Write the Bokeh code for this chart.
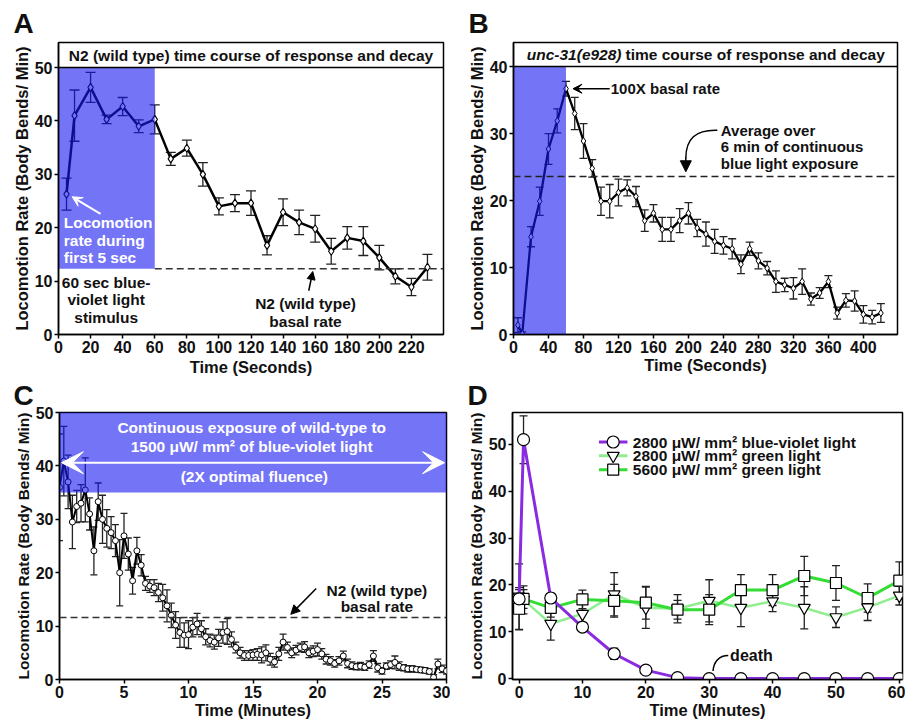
import numpy as np
from bokeh.plotting import figure
from bokeh.layouts import column, row
from bokeh.models import (ColumnDataSource, Whisker, TeeHead, Label, Arrow, VeeHead,
                          NormalHead, FixedTicker, Span)
from bokeh.embed import file_html
from bokeh.resources import INLINE

FONT = "Liberation Sans"

# ---------------- Panel A : N2 (wild type), seconds ----------------
a_time = [5, 10, 20, 30, 40, 50, 60, 70, 80, 90, 100, 110, 120, 130, 140, 150,
          160, 170, 180, 190, 200, 210, 220, 230]
a_rate = [26.3, 41.0, 46.3, 40.3, 42.7, 39.0, 40.3, 32.9, 34.9, 30.0, 24.0, 24.6,
          24.6, 16.7, 22.9, 21.0, 19.8, 15.6, 18.1, 17.5, 14.4, 10.9, 8.9, 12.6]
a_sem = [3.0, 4.8, 2.8, 0.8, 1.7, 1.2, 2.7, 1.2, 1.5, 2.2, 1.6, 1.6,
         2.3, 1.8, 2.5, 2.3, 2.5, 2.4, 2.1, 2.7, 2.3, 1.4, 1.6, 2.4]
a_basal = 12.3
a_stim_end = 60
a_xticks = [0, 20, 40, 60, 80, 100, 120, 140, 160, 180, 200, 220]
a_yticks = [0, 10, 20, 30, 40, 50]

# ---------------- Panel B : unc-31(e928), seconds ----------------
b_time = [5, 10, 20, 30, 40, 50, 60, 70, 80, 90, 100, 110, 120, 130, 140, 150,
          160, 170, 180, 190, 200, 210, 220, 230, 240, 250, 260, 270, 280, 290,
          300, 310, 320, 330, 340, 350, 360, 370, 380, 390, 400, 410, 420]
b_rate = [1.4, 0.1, 14.6, 19.9, 27.7, 31.9, 36.7, 33.0, 28.9, 24.8, 19.9, 19.9,
          21.2, 21.9, 20.6, 17.0, 18.1, 15.7, 15.7, 17.0, 18.1, 15.9, 15.0, 13.9,
          13.3, 12.8, 10.5, 12.8, 11.0, 9.9, 7.9, 7.4, 6.9, 7.9, 5.3, 6.2, 7.9,
          3.2, 5.1, 5.0, 3.0, 2.6, 3.2]
b_sem = [1.1, 0.3, 1.5, 2.1, 2.3, 1.8, 1.1, 2.4, 2.6, 1.3, 2.1, 2.5, 2.0, 1.2,
         1.5, 1.6, 1.3, 1.8, 1.8, 1.8, 1.6, 1.3, 1.8, 1.8, 1.3, 1.5, 1.4, 1.0,
         1.2, 1.0, 1.6, 1.0, 1.6, 1.9, 0.9, 0.8, 0.9, 0.9, 1.0, 1.5, 1.3, 1.0, 1.4]
b_average = 23.6
b_stim_end = 60
b_xticks = [0, 40, 80, 120, 160, 200, 240, 280, 320, 360, 400]
b_yticks = [0, 10, 20, 30, 40]

# ---------------- Panel C : continuous exposure, minutes ----------------
c_rate = [36.0, 40.9, 37.0, 29.5, 32.4, 33.0, 35.5, 31.0, 24.1, 33.3,
          30.0, 28.3, 27.5, 26.0, 20.0, 26.9, 23.5, 18.5, 24.1, 21.4,
          18.0, 17.5, 17.2, 16.3, 15.3, 13.8, 12.0, 10.2, 8.8, 8.3,
          8.4, 9.8, 10.4, 9.5, 8.0, 7.3, 7.0, 7.8, 8.8, 9.0,
          7.5, 6.0, 5.0, 4.5, 4.5, 4.6, 4.7, 4.6, 5.0, 3.8,
          3.3, 4.8, 7.0, 6.0, 5.0, 5.5, 6.0, 6.1, 5.0, 5.3,
          5.6, 4.8, 3.8, 3.5, 3.0, 3.5, 4.4, 3.0, 2.6, 2.4,
          2.5, 2.3, 2.8, 4.4, 2.2, 1.6, 2.5, 2.8, 3.2, 2.5,
          2.2, 2.0, 2.0, 1.9, 1.8, 1.7, 1.5, 0.4, 2.9, 2.0,
          1.6]
c_sem = [10.0, 6.5, 5.0, 5.0, 3.0, 3.5, 6.0, 3.0, 4.5, 3.5,
         4.5, 3.5, 3.0, 3.0, 6.2, 4.2, 3.0, 2.5, 2.5, 2.0,
         1.3, 1.2, 1.5, 1.7, 2.5, 3.0, 2.3, 2.5, 2.8, 2.3,
         2.6, 1.8, 2.0, 1.5, 1.5, 1.2, 1.3, 1.6, 2.0, 2.4,
         1.4, 1.0, 1.0, 0.9, 0.9, 1.0, 1.1, 1.5, 1.5, 1.1,
         1.0, 1.2, 1.5, 1.0, 0.9, 0.9, 0.8, 1.0, 0.9, 1.0,
         1.2, 1.0, 0.9, 0.8, 0.7, 0.8, 0.9, 0.8, 0.7, 0.6,
         0.7, 0.6, 0.7, 1.0, 0.8, 0.6, 0.6, 0.7, 1.2, 0.8,
         0.6, 0.6, 0.6, 0.5, 0.5, 0.5, 0.5, 0.5, 0.9, 0.7,
         0.6]
c_time = list(np.arange(len(c_rate)) / 3.0)   # one sample every 20 s
c_basal = 11.6
c_light_band = (35, 50)
c_xticks = [0, 5, 10, 15, 20, 25, 30]
c_yticks = [0, 10, 20, 30, 40, 50]

# ---------------- Panel D : three light conditions, minutes ----------------
d_time = [0, 0.7, 5, 10, 15, 20, 25, 30, 35, 40, 45, 50, 55, 60]
d_blue = [17.0, 51.0, 17.2, 11.0, 5.3, 1.8, 0.2, 0, 0, 0, 0, 0, 0, 0]
d_blue_sem = [2.0, 5.1, 1.0, 0.8, 1.2, 0.5, 0.2, 0, 0, 0, 0, 0, 0, 0]
d_green28 = [17.5, 16.8, 11.7, 13.8, 18.0, 15.1, 14.9, 16.6, 15.1, 16.5, 15.1, 13.1, 15.2, 17.7]
d_green28_sem = [7.0, 3.0, 3.5, 2.5, 4.6, 4.4, 3.0, 4.5, 4.0, 2.2, 4.5, 2.2, 2.8, 2.0]
d_green56 = [14.9, 17.0, 15.1, 16.9, 16.6, 16.2, 14.7, 14.7, 18.9, 18.9, 21.9, 20.4, 17.2, 20.9]
d_green56_sem = [4.5, 2.0, 2.0, 2.0, 3.5, 3.5, 2.0, 3.2, 3.3, 3.3, 4.2, 3.7, 3.0, 4.0]
d_labels = ["2800 \u03bcW/ mm\u00b2 blue-violet light",
            "2800 \u03bcW/ mm\u00b2 green light",
            "5600 \u03bcW/ mm\u00b2 green light"]
d_colors = ["#8a2be2", "#90ee90", "#33dd33"]
d_xticks = [0, 10, 20, 30, 40, 50, 60]
d_yticks = [0, 10, 20, 30, 40, 50]

BAND = "#1717f0"
BAND_ALPHA = 0.6
YLABEL = "Locomotion Rate (Body Bends/ Min)"


def make_fig(w, h, xr, yr, bl, br, bt, bb, xlabel, xticks, yticks, xl_standoff,
             letter, letter_offset, letter_standoff, letter_valign, ylab_size,
             letter_lh=1.0):
    p = figure(width=w, height=h, x_range=xr, y_range=yr, output_backend="svg",
               toolbar_location=None, min_border_left=bl, min_border_right=br,
               min_border_top=bt, min_border_bottom=bb)
    p.title.text = letter
    p.title.text_font = FONT
    p.title.text_font_size = "28px"
    p.title.text_font_style = "bold"
    p.title.text_color = "#111111"
    p.title.align = "left"
    p.title.offset = letter_offset
    p.title.standoff = letter_standoff
    p.title.vertical_align = letter_valign
    p.title.text_line_height = letter_lh
    p.grid.visible = False
    p.outline_line_color = "black"
    p.outline_line_width = 1.5
    p.xaxis.axis_label = xlabel
    p.yaxis.axis_label = YLABEL
    p.xaxis.ticker = FixedTicker(ticks=xticks)
    p.yaxis.ticker = FixedTicker(ticks=yticks)
    for ax in (p.xaxis[0], p.yaxis[0]):
        ax.axis_line_width = 1.5
        ax.axis_line_color = "black"
        ax.major_tick_line_width = 1.5
        ax.major_tick_out = 4
        ax.major_tick_in = 0
        ax.minor_tick_line_color = None
        ax.major_label_text_font = FONT
        ax.major_label_text_font_size = "16px"
        ax.major_label_text_font_style = "bold"
        ax.major_label_text_color = "#111111"
        ax.major_label_standoff = 2
        ax.axis_label_text_font = FONT
        ax.axis_label_text_font_style = "bold"
        ax.axis_label_text_font_size = "16.5px"
        ax.axis_label_text_color = "#111111"
    p.yaxis.axis_label_text_font_size = ylab_size
    p.yaxis.axis_label_standoff = 1
    p.xaxis.axis_label_standoff = xl_standoff
    return p


def errbars(p, x, y, e, cap, color="#222222", width=1.3):
    src = ColumnDataSource(dict(x=list(x), lo=[a - b for a, b in zip(y, e)],
                                hi=[a + b for a, b in zip(y, e)]))
    w = Whisker(source=src, base="x", lower="lo", upper="hi", line_color=color,
                line_width=width, level="underlay",
                lower_head=TeeHead(size=cap, line_color=color, line_width=width),
                upper_head=TeeHead(size=cap, line_color=color, line_width=width))
    p.add_layout(w)


def txt(p, x, y, s, size="15.5px", color="#111111", align="center", style="bold"):
    p.add_layout(Label(x=x, y=y, text=s, text_font=FONT, text_font_size=size,
                       text_font_style=style, text_color=color, text_align=align,
                       text_baseline="middle"))


# ================= Panel A =================
pA = make_fig(450, 379, (0, 240), (0, 54.7), 58, 7, 42, 45, "Time (Seconds)",
              a_xticks, a_yticks, 2, "A", -45, 7, "bottom", "16.5px")
errbars(pA, a_time, a_rate, a_sem, 10)
pA.line(a_time, a_rate, line_color="black", line_width=2.5)
pA.scatter(a_time, a_rate, marker="diamond", size=8, fill_color="white",
           line_color="black", line_width=1.1)
pA.segment(x0=a_stim_end, x1=240, y0=a_basal, y1=a_basal, line_color="#333333",
           line_width=1.5, line_dash="7 4")
pA.quad(left=0, right=a_stim_end, bottom=a_basal, top=50, fill_color=BAND,
        fill_alpha=BAND_ALPHA, line_color=None)
pA.add_layout(Span(location=50, dimension="width", line_color="black", line_width=1.5))
txt(pA, 120, 52.35, "N2 (wild type) time course of response and decay")
for yy, s in zip([21.0, 17.6, 14.4], ["Locomotion", "rate during", "first 5 sec"]):
    txt(pA, 3.3, yy, s, color="white", align="left")
pA.add_layout(Arrow(x_start=26.2, y_start=22.6, x_end=8.5, y_end=25.8, line_color="white",
                    line_width=2, end=VeeHead(size=10, fill_color="white", line_color="white")))
for yy, s in zip([9.8, 6.5, 3.1], ["60 sec blue-", "violet light", "stimulus"]):
    txt(pA, 29.7, yy, s)
for yy, s in zip([5.75, 2.5], ["N2 (wild type)", "basal rate"]):
    txt(pA, 154, yy, s)
pA.add_layout(Arrow(x_start=156, y_start=8.2, x_end=158.5, y_end=11.8, line_color="black",
                    line_width=1.5, end=NormalHead(size=8, fill_color="black", line_color="black")))

# ================= Panel B =================
pB = make_fig(455, 379, (0, 439), (0, 43.6), 63, 8, 42, 43, "Time (Seconds)",
              b_xticks, b_yticks, 0, "B", -45, 7, "bottom", "16.5px")
errbars(pB, b_time, b_rate, b_sem, 8)
pB.line(b_time, b_rate, line_color="black", line_width=2.3)
pB.scatter(b_time, b_rate, marker="diamond", size=7, fill_color="white",
           line_color="black", line_width=1.0)
pB.add_layout(Span(location=b_average, dimension="width", line_color="#222222",
                   line_width=1.5, line_dash="7 4"))
pB.quad(left=0, right=b_stim_end, bottom=0, top=40, fill_color=BAND,
        fill_alpha=BAND_ALPHA, line_color=None)
pB.add_layout(Span(location=40, dimension="width", line_color="black", line_width=1.5))
txt(pB, 123.5, 41.8, "unc-31(e928)", align="right", style="bold italic")
txt(pB, 128.0, 41.8, "time course of response and decay", align="left")
txt(pB, 111.2, 36.7, "100X basal rate", size="15px", align="left")
pB.add_layout(Arrow(x_start=110, y_start=36.7, x_end=68, y_end=36.7, line_color="black",
                    line_width=1.5, end=VeeHead(size=9, fill_color="black", line_color="black")))
for yy, s in zip([30.5, 28.0, 25.5], ["Average over", "6 min of continuous", "blue light exposure"]):
    txt(pB, 237, yy, s, size="15px", align="left")
pB.bezier(x0=233, y0=30.5, x1=197, y1=26.3, cx0=208, cy0=30.6, cx1=197, cy1=29.2,
          line_color="black", line_width=1.5)
pB.add_layout(Arrow(x_start=197, y_start=26.4, x_end=197, y_end=24.3, line_color="black",
                    line_width=1.5, end=NormalHead(size=11, fill_color="black", line_color="black")))

# ================= Panel C =================
pC = make_fig(450, 344, (0, 30), (0, 50), 59, 4, 26, 43, "Time (Minutes)",
              c_xticks, c_yticks, 0, "C", -46, 0, "top", "15.5px", 0.7)
errbars(pC, c_time, c_rate, c_sem, 7)
pC.line(c_time, c_rate, line_color="black", line_width=2)
pC.scatter(c_time, c_rate, marker="circle", size=6, fill_color="white",
           line_color="black", line_width=1.0)
pC.add_layout(Span(location=c_basal, dimension="width", line_color="#333333",
                   line_width=1.5, line_dash="7 4"))
pC.quad(left=0, right=30, bottom=c_light_band[0], top=c_light_band[1], fill_color=BAND,
        fill_alpha=BAND_ALPHA, line_color=None)
txt(pC, 14.9, 47.15, "Continuous exposure of wild-type to", color="white")
txt(pC, 14.9, 43.65, "1500 \u03bcW/ mm\u00b2 of blue-violet light", color="white")
txt(pC, 15.1, 38.1, "(2X optimal fluence)", color="white")
pC.add_layout(Arrow(x_start=0.15, y_start=40.6, x_end=29.85, y_end=40.6, line_color="white",
                    line_width=2,
                    start=VeeHead(size=22, fill_color="white", line_color="white"),
                    end=VeeHead(size=22, fill_color="white", line_color="white")))
for yy, s in zip([16.75, 13.6], ["N2 (wild type)", "basal rate"]):
    txt(pC, 24.6, yy, s)
pC.add_layout(Arrow(x_start=19.9, y_start=17.05, x_end=17.93, y_end=12.2, line_color="black",
                    line_width=1.5, end=NormalHead(size=9, fill_color="black", line_color="black")))

# ================= Panel D =================
pD = make_fig(455, 344, (-1.04, 60.5), (-0.2, 56.8), 62, 3, 30, 44, "Time (Minutes)",
              d_xticks, d_yticks, 0, "D", -45, 0, "top", "15.5px", 0.7)
series = [(d_green28, d_green28_sem, "inverted_triangle", 12, 2.5),
          (d_green56, d_green56_sem, "square", 11, 3),
          (d_blue, d_blue_sem, "circle", 12, 3)]
cols = [d_colors[1], d_colors[2], d_colors[0]]
for (vals, sem, mk, sz, lw), col in zip(series, cols):
    errbars(pD, d_time, vals, sem, 8)
    pD.line(d_time, vals, line_color=col, line_width=lw)
    pD.scatter(d_time, vals, marker=mk, size=sz, fill_color="white",
               line_color="black", line_width=1.2)
# legend keys
leg_y = [50.5, 47.55, 44.6]
leg_mk = ["circle", "inverted_triangle", "square"]
leg_sz = [12, 12, 11]
for yy, col, mk, sz, lab in zip(leg_y, d_colors, leg_mk, leg_sz, d_labels):
    pD.segment(x0=12.6, x1=17.1, y0=yy, y1=yy, line_color=col, line_width=3)
    pD.scatter([14.85], [yy], marker=mk, size=sz, fill_color="white",
               line_color="black", line_width=1.2)
    txt(pD, 17.95, yy, lab, align="left")
txt(pD, 33.3, 4.9, "death", size="16px", align="left")
pD.bezier(x0=33.0, y0=4.9, x1=30.6, y1=1.6, cx0=31.6, cy0=4.9, cx1=30.7, cy1=3.6,
          line_color="black", line_width=1.5)

layout = column(row(pA, pB), row(pC, pD))
open("out.html", "w").write(file_html(layout, INLINE))
